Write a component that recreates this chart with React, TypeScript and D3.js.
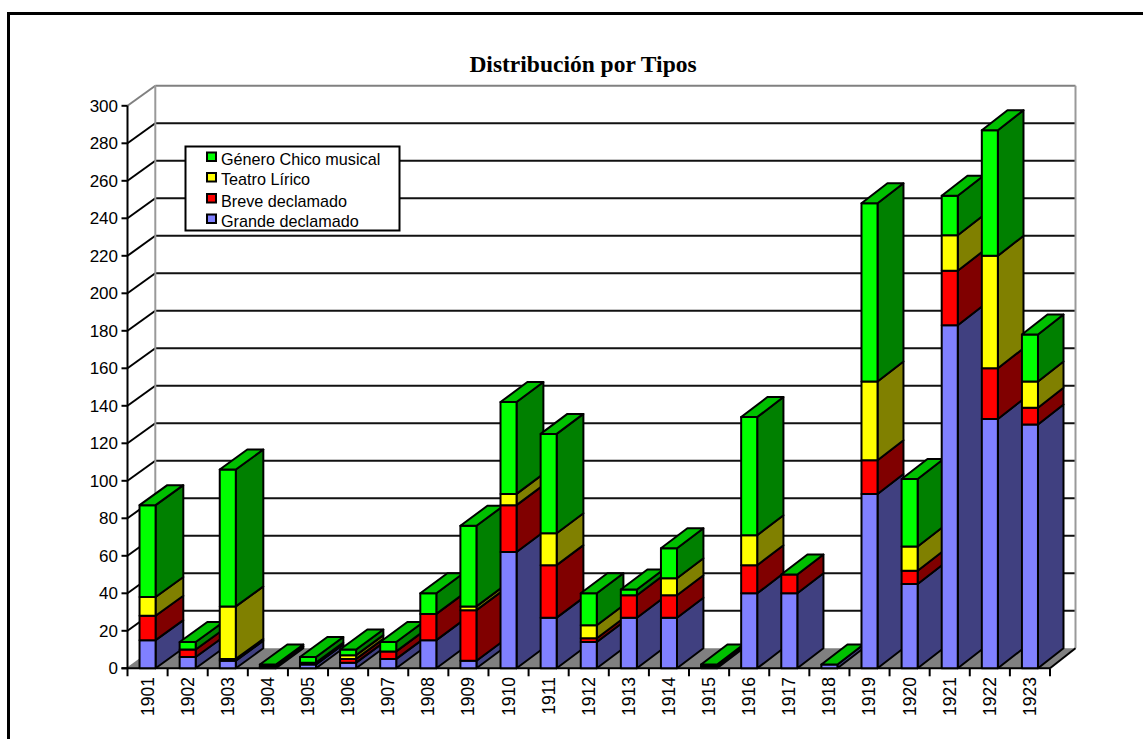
import React, { useEffect, useRef } from "react";
import * as d3 from "d3";

const years = [
  "1901", "1902", "1903", "1904", "1905", "1906", "1907", "1908", "1909", "1910", "1911", "1912",
  "1913", "1914", "1915", "1916", "1917", "1918", "1919", "1920", "1921", "1922", "1923",
];
const grandeDeclamado = [15, 6, 4, 1, 2, 3, 5, 15, 4, 62, 27, 14, 27, 27, 1, 40, 40, 2, 93, 45, 183, 133, 130];
const breveDeclamado = [13, 4, 1, 1, 1, 2, 4, 14, 27, 25, 28, 2, 12, 12, 1, 15, 10, 0, 18, 7, 29, 27, 9];
const teatroLirico = [10, 0, 28, 0, 0, 2, 0, 0, 2, 6, 17, 7, 0, 9, 0, 16, 0, 0, 42, 13, 19, 60, 14];
const generoChico = [49, 4, 73, 0, 3, 3, 5, 11, 43, 49, 53, 17, 3, 16, 0, 63, 0, 0, 95, 36, 21, 67, 25];

const seriesNames = ["Grande declamado", "Breve declamado", "Teatro Lírico", "Género Chico musical"];
const seriesValues = [grandeDeclamado, breveDeclamado, teatroLirico, generoChico];
const frontColors = ["#8080ff", "#ff0000", "#ffff00", "#00ff00"];
const sideColors = ["#404080", "#800000", "#808000", "#008000"];
const lidColor = "#00c000";
const yTicks = d3.range(0, 301, 20);

const depthY = 20;

export default function App() {
  const svgRef = useRef<SVGSVGElement>(null);

  useEffect(() => {
    const svg = d3.select(svgRef.current);
    svg.selectAll("*").remove();

    const x = d3
      .scaleBand()
      .domain(years)
      .range([127.5, 1050])
      .paddingInner(0.6)
      .paddingOuter(0.3);
    const y = d3.scaleLinear().domain([0, 300]).range([668.3, 105.8]);
    // the receding edges get a bit shorter to the right
    const depthX = d3.scaleLinear().domain([127.5, 1050]).range([27.8, 25.5]);
    const back = (px: number) => px + depthX(px);

    const x0 = 127.5;
    const x1 = 1050;
    const wallLeft = back(x0);
    const wallRight = back(x1);
    const y0 = y(0);
    const yTop = y(300);

    // outer frame, only top and left show
    svg.append("path").attr("d", "M8.5,739V13.5H1143").attr("fill", "none").attr("stroke", "#000").attr("stroke-width", 3);

    svg
      .append("text")
      .attr("x", 583)
      .attr("y", 72)
      .attr("text-anchor", "middle")
      .attr("font-family", "Liberation Serif")
      .attr("font-weight", "bold")
      .attr("font-size", 23.5)
      .text("Distribución por Tipos");

    // floor
    svg
      .append("polygon")
      .attr("points", `${x0},${y0} ${x1},${y0} ${wallRight},${y0 - depthY} ${wallLeft},${y0 - depthY}`)
      .attr("fill", "#808080");

    // back wall grid + left wall diagonals
    yTicks.forEach((t) => {
      const isTop = t === 300;
      if (t > 0) {
        svg
          .append("line")
          .attr("x1", wallLeft)
          .attr("x2", wallRight)
          .attr("y1", y(t) - depthY)
          .attr("y2", y(t) - depthY)
          .attr("stroke", isTop ? "#808080" : "#111")
          .attr("stroke-width", 2);
      }
      svg
        .append("line")
        .attr("x1", x0)
        .attr("y1", y(t))
        .attr("x2", wallLeft)
        .attr("y2", y(t) - depthY)
        .attr("stroke", isTop || t === 0 ? "#808080" : "#000")
        .attr("stroke-width", 2);
    });
    [wallLeft, wallRight].forEach((wx) => {
      svg
        .append("line")
        .attr("x1", wx)
        .attr("x2", wx)
        .attr("y1", yTop - depthY)
        .attr("y2", y0 - depthY)
        .attr("stroke", "#999")
        .attr("stroke-width", 2);
    });
    svg
      .append("line")
      .attr("x1", x1)
      .attr("y1", y0)
      .attr("x2", wallRight)
      .attr("y2", y0 - depthY)
      .attr("stroke", "#000")
      .attr("stroke-width", 2);

    // axes lines and ticks
    const axes = svg.append("g").attr("stroke", "#000").attr("stroke-width", 2);
    axes.append("line").attr("x1", x0).attr("x2", x0).attr("y1", yTop).attr("y2", y0 + 8);
    axes.append("line").attr("x1", x0 - 6).attr("x2", x1).attr("y1", y0).attr("y2", y0);
    yTicks.forEach((t) => {
      axes.append("line").attr("x1", x0 - 6).attr("x2", x0).attr("y1", y(t)).attr("y2", y(t));
    });
    years.forEach((yr, i) => {
      const tx = x0 + ((i + 1) * (x1 - x0)) / years.length;
      axes.append("line").attr("x1", tx).attr("x2", tx).attr("y1", y0).attr("y2", y0 + 8);
    });

    const labelFont = "Liberation Sans";
    svg
      .append("g")
      .selectAll("text")
      .data(yTicks)
      .enter()
      .append("text")
      .attr("x", 118)
      .attr("y", (d) => y(d) + 6)
      .attr("text-anchor", "end")
      .attr("font-family", labelFont)
      .attr("font-size", 17)
      .text((d) => d);

    svg
      .append("g")
      .selectAll("text")
      .data(years)
      .enter()
      .append("text")
      .attr("transform", (d) => `translate(${x(d)! + 14},677) rotate(-90)`)
      .attr("text-anchor", "end")
      .attr("font-family", labelFont)
      .attr("font-size", 17.5)
      .text((d) => d);

    // stacked bars, painted left to right
    const rows = years.map((yr, i) => {
      const row: Record<string, any> = { year: yr };
      seriesNames.forEach((name, s) => (row[name] = seriesValues[s][i]));
      return row;
    });
    const stacked = d3.stack().keys(seriesNames)(rows as any);

    years.forEach((yr, i) => {
      const bar = svg.append("g").attr("stroke", "#000").attr("stroke-width", 2).attr("stroke-linejoin", "round");
      const left = x(yr)!;
      const right = left + x.bandwidth();
      stacked.forEach((layer, s) => {
        const [a, b] = layer[i];
        if (b === a) return;
        const yA = y(a);
        const yB = y(b);
        bar
          .append("polygon")
          .attr("points", `${right},${yA} ${back(right)},${yA - depthY} ${back(right)},${yB - depthY} ${right},${yB}`)
          .attr("fill", sideColors[s]);
        bar
          .append("rect")
          .attr("x", left)
          .attr("y", yB)
          .attr("width", x.bandwidth())
          .attr("height", yA - yB)
          .attr("fill", frontColors[s]);
      });
      const total = y(stacked[stacked.length - 1][i][1]);
      bar
        .append("polygon")
        .attr("points", `${left},${total} ${right},${total} ${back(right)},${total - depthY} ${back(left)},${total - depthY}`)
        .attr("fill", lidColor);
    });

    // legend
    const legend = svg.append("g");
    legend
      .append("rect")
      .attr("x", 185.5)
      .attr("y", 146.5)
      .attr("width", 214)
      .attr("height", 84)
      .attr("fill", "#fff")
      .attr("stroke", "#000")
      .attr("stroke-width", 2);
    const legendOrder = [3, 2, 1, 0];
    const swatchY = [152.5, 173, 194, 214.5];
    const textY = [165, 185, 207, 227];
    legendOrder.forEach((s, i) => {
      legend
        .append("rect")
        .attr("x", 207)
        .attr("y", swatchY[i])
        .attr("width", 9)
        .attr("height", 8.5)
        .attr("fill", frontColors[s])
        .attr("stroke", "#000")
        .attr("stroke-width", 2);
      legend
        .append("text")
        .attr("x", 221)
        .attr("y", textY[i])
        .attr("font-family", labelFont)
        .attr("font-size", 16.2)
        .text(seriesNames[s]);
    });
  }, []);

  return <svg ref={svgRef} width={1143} height={739} style={{ position: "absolute", left: 0, top: 0 }} />;
}
